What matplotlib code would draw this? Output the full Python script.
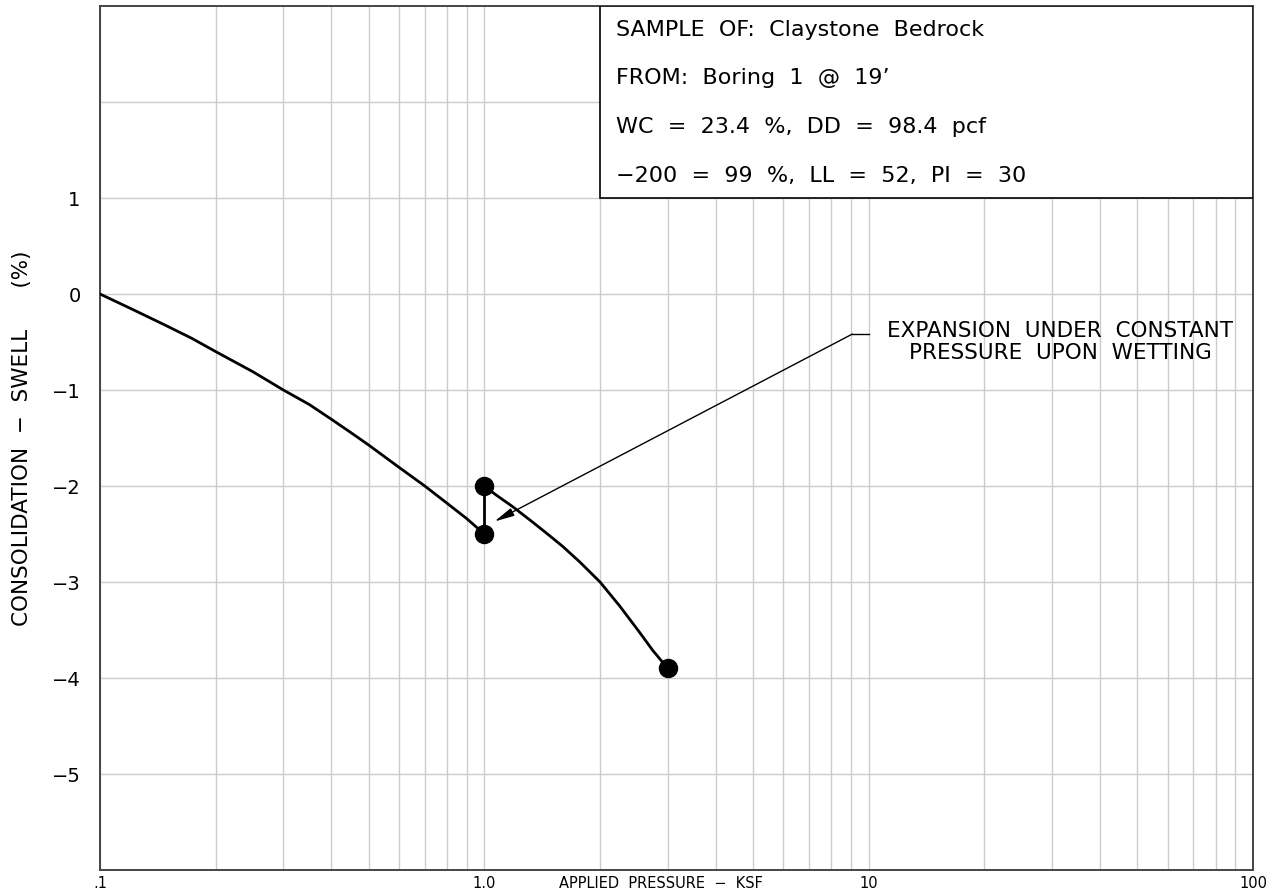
import matplotlib
matplotlib.use("Agg")
import matplotlib.pyplot as plt
from matplotlib.patches import Rectangle

# ---- data ----
curve1_x = [0.1, 0.12, 0.147, 0.173, 0.2, 0.25, 0.3, 0.35, 0.4, 0.45, 0.5, 0.6, 0.7, 0.8, 0.9, 1.0]
curve1_y = [0.0, -0.15, -0.32, -0.46, -0.6, -0.81, -1.0, -1.15, -1.305, -1.445, -1.573, -1.806,
            -2.0, -2.18, -2.34, -2.5]
wet_x = [1.0, 1.0]
wet_y = [-2.5, -2.0]
curve2_x = [1.0, 1.07, 1.185, 1.31, 1.45, 1.6, 1.77, 2.0, 2.25, 2.53, 2.74, 3.0]
curve2_y = [-2.0, -2.09, -2.215, -2.35, -2.49, -2.63, -2.79, -3.0, -3.25, -3.52, -3.71, -3.9]
marker_x = [1.0, 1.0, 3.0]
marker_y = [-2.0, -2.5, -3.9]

y_ticks = [-5, -4, -3, -2, -1, 0, 1, 2]
y_ticklabels = ["\u22125", "\u22124", "\u22123", "\u22122", "\u22121", "0", "1", ""]
x_ticks = [0.1, 1.0, 10, 100]
x_ticklabels = [".1", "1.0", "10", "100"]

info_lines = [
    "SAMPLE  OF:  Claystone  Bedrock",
    "FROM:  Boring  1  @  19\u2019",
    "WC  =  23.4  %,  DD  =  98.4  pcf",
    "\u2212200  =  99  %,  LL  =  52,  PI  =  30",
]
annot_text = "EXPANSION  UNDER  CONSTANT\nPRESSURE  UPON  WETTING"

# ---- figure ----
fig = plt.figure(figsize=(12.76, 8.94), dpi=100)
ax = fig.add_axes([100/1276, 24/894, 1153/1276, 864/894])
ax.set_xscale("log")
ax.set_xlim(0.1, 100)
ax.set_ylim(-6, 3)

grid_c = "#cccccc"
ax.grid(True, which="both", axis="x", color=grid_c, lw=1.0, zorder=0)
ax.grid(True, which="major", axis="y", color=grid_c, lw=1.0, zorder=0)

ax.set_yticks(y_ticks)
ax.set_yticklabels(y_ticklabels, fontsize=14)
ax.set_xticks(x_ticks)
ax.set_xticklabels(x_ticklabels, fontsize=10.5)
ax.tick_params(axis="both", which="both", length=0)
ax.tick_params(axis="y", pad=14)
ax.tick_params(axis="x", pad=4)
ax.xaxis.set_minor_formatter(plt.NullFormatter())

for s in ax.spines.values():
    s.set_color("#444444")
    s.set_linewidth(1.4)

# info box (covers grid)
ax.add_patch(Rectangle((2.0, 1.0), 98.0, 2.0, facecolor="white", edgecolor="black",
                       lw=1.2, zorder=3))
info_y = [2.75, 2.25, 1.74, 1.23]
for t, yy in zip(info_lines, info_y):
    ax.text(2.2, yy, t, fontsize=16, va="center", ha="left", zorder=4)

# curves
line_kw = dict(color="black", lw=2.0, zorder=5, solid_joinstyle="round", solid_capstyle="round")
ax.plot(curve1_x, curve1_y, **line_kw)
ax.plot(wet_x, wet_y, **line_kw)
ax.plot(curve2_x, curve2_y, **line_kw)
ax.plot(marker_x, marker_y, "o", color="black", ms=13, zorder=6, clip_on=False)

# annotation
ax.plot([9.07, 10.0], [-0.417, -0.417], color="black", lw=1.0, zorder=5)
ax.annotate("", xy=(1.062, -2.37), xytext=(9.07, -0.417),
            arrowprops=dict(arrowstyle="-|>,head_length=1.2,head_width=0.25",
                            color="black", lw=1.0, shrinkA=0, shrinkB=0), zorder=5)
ax.text(31.5, -0.5, annot_text, fontsize=15.5, ha="center", va="center",
        linespacing=1.15, zorder=5)

# axis labels
fig.text(661/1276, 1 - 884/894, "APPLIED  PRESSURE  \u2212  KSF", fontsize=10.5,
         ha="center", va="center")
fig.text(22/1276, 1 - 438/894, "CONSOLIDATION  \u2212  SWELL      (%)", fontsize=15.5,
         rotation=90, ha="center", va="center")

fig.savefig("out.png", dpi=100)
